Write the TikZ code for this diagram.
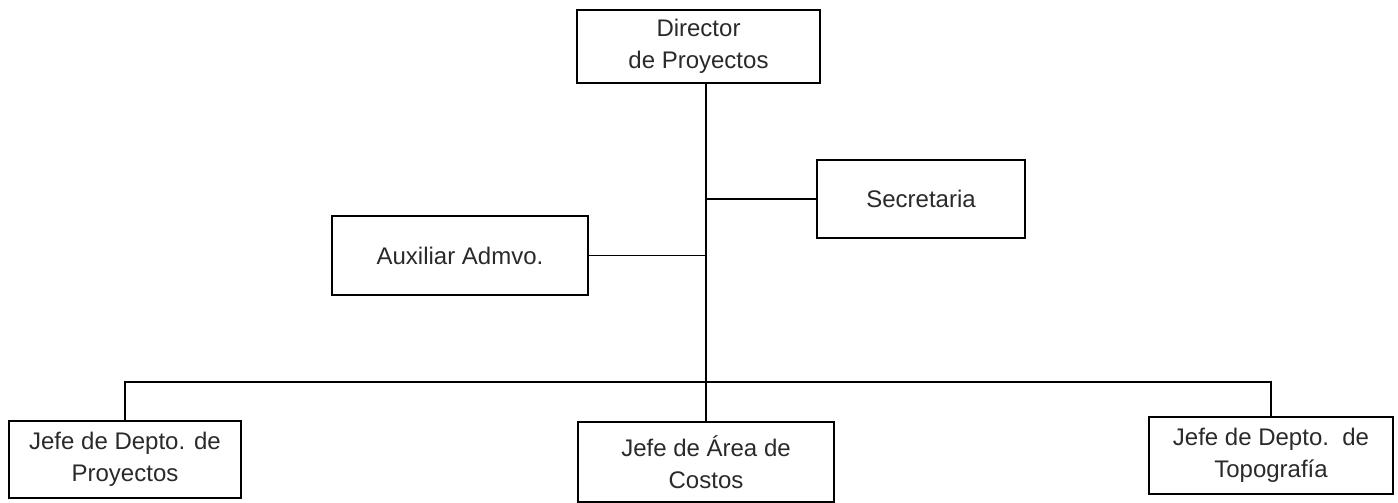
\documentclass[tikz,border=0pt]{standalone}
\usepackage{fontspec}
\setmainfont{Liberation Sans}
\definecolor{txt}{HTML}{2A2A2A}
\begin{document}
\begin{tikzpicture}[x=1pt,y=-1pt,
  box/.style={draw=black,line width=1.6pt,inner sep=0pt,align=center,text=txt,
    font=\fontsize{24}{32}\selectfont},
  conn/.style={draw=black,line width=1.6pt}]
\useasboundingbox[fill=white] (0,0) rectangle (1398,503);
\node[box,minimum width=243,minimum height=73] (dir) at (698.5,46.5) {Director\\de Proyectos};
\node[box,minimum width=208,minimum height=78] (sec) at (921,199) {Secretaria};
\node[box,minimum width=256,minimum height=79] (aux) at (460,255.5) {Auxiliar Admvo.};
\node[box,minimum width=232,minimum height=77] (b1) at (125,459.5) {Jefe de Depto. de\\Proyectos};
\node[box,minimum width=256,minimum height=80] (b2) at (706,462) {Jefe de Área de\\Costos};
\node[box,minimum width=244,minimum height=77] (b3) at (1271,455.5) {Jefe de Depto.\ \ de\\Topografía};
\coordinate (bus) at (706,382);
\draw[conn] (dir.south -| b2.north) -- (b2.north);
\draw[conn] (sec.west) -- (sec.west -| b2.north);
\draw[conn] (aux.east) -- (aux.east -| b2.north);
\draw[conn] (b1.north) -- (b1.north |- bus) -- (b3.north |- bus) -- (b3.north);
\end{tikzpicture}
\end{document}
